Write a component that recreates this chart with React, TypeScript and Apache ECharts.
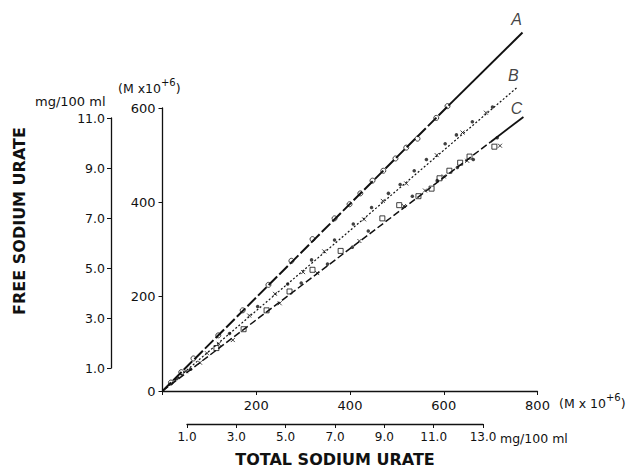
import React, { useEffect, useRef } from "react";
import * as echarts from "echarts";

// ---- tick labels ----
const mainXTicks = [0, 200, 400, 600, 800];
const mainYTicks = [0, 200, 400, 600];
const mgYTickLabels = ["1.0", "3.0", "5.0", "7.0", "9.0", "11.0"];
const mgXTickLabels = ["1.0", "3.0", "5.0", "7.0", "9.0", "11.0", "13.0"];

// ---- fitted lines (total, free) in M x 10^-6 ----
const fitA = [[0, 0], [610, 605], [768, 760]];
const fitB = [[0, 0], [757, 644]];
const fitC = [[0, 0], [700, 528], [770, 581]];

// ---- data points ----
const circlesA = [
  [18, 18], [40, 40], [66, 69], [119, 118], [171, 171], [226, 225], [275, 276],
  [320, 322], [367, 366], [399, 396], [422, 419], [448, 446], [471, 467],
  [497, 493], [520, 516], [544, 535], [584, 579], [608, 604],
];
const dotsB = [
  [30, 26], [143, 122], [203, 179], [267, 227], [318, 278], [367, 320],
  [407, 354], [446, 389], [482, 419], [507, 438], [537, 467], [563, 491],
  [603, 524], [627, 543], [661, 571], [704, 602],
];
const crossesB = [
  [50, 42], [95, 80], [120, 100], [185, 160], [240, 206], [300, 252],
  [345, 296], [430, 364], [470, 403], [520, 440], [585, 500], [640, 548], [690, 590],
];
const squaresC = [
  [115, 91], [173, 131], [222, 171], [271, 211], [320, 257], [380, 297],
  [469, 366], [505, 394], [546, 413], [574, 429], [591, 451], [612, 467],
  [635, 484], [655, 497], [708, 518],
];
const dotsC = [
  [60, 46], [296, 229], [352, 269], [405, 305], [439, 339], [533, 413],
  [586, 446], [629, 474], [663, 491], [714, 537],
];
const crossesC = [
  [80, 60], [150, 108], [250, 186], [330, 250], [420, 318], [515, 392],
  [560, 425], [600, 455], [650, 488], [720, 520],
];

const FONT = "DejaVu Sans";
const BLACK = "#111";

export default function App() {
  const ref = useRef<HTMLDivElement>(null);
  useEffect(() => {
    if (!ref.current) return;
    const chart = echarts.init(ref.current, null, { renderer: "svg" });
    const axisLine = { show: true, lineStyle: { color: BLACK, width: 1.3 } };
    const crossSymbol = "path://M0,0L10,10M10,0L0,10";
    const common = { xAxisIndex: 0, yAxisIndex: 0, clip: false, silent: true };
    const endLabel = (p: number[], text: string, off: number[]) => ({
      value: p,
      label: {
        show: true,
        formatter: text,
        position: "inside",
        offset: off,
        fontFamily: "Liberation Sans",
        fontStyle: "italic",
        fontSize: 16,
        color: BLACK,
      },
    });
    const unitRich = {
      a: { fontFamily: FONT, fontSize: 12.5, verticalAlign: "bottom", fill: BLACK },
      s: { fontFamily: FONT, fontSize: 10, verticalAlign: "bottom", padding: [0, 0, 7, 0], fill: BLACK },
    };
    chart.setOption({
      animation: false,
      backgroundColor: "#fff",
      grid: [
        { left: 162.5, top: 108, width: 375, height: 283 },
        { left: 111, top: 118, width: 10, height: 250 },
        { left: 187, top: 400, width: 296, height: 24 },
      ],
      xAxis: [
        {
          gridIndex: 0, type: "value", min: 0, max: 800, interval: 200,
          axisLine, splitLine: { show: false },
          axisTick: { show: true, length: 4, lineStyle: { color: BLACK } },
          axisLabel: {
            fontFamily: FONT, fontSize: 13, color: BLACK, margin: 8,
            formatter: (v: number) => (v === 0 ? "" : String(mainXTicks[mainXTicks.indexOf(v)])),
          },
        },
        { gridIndex: 1, type: "value", show: false },
        {
          gridIndex: 2, type: "value", min: 0, max: 12, interval: 2,
          axisLine, splitLine: { show: false },
          axisTick: { show: true, length: 4, lineStyle: { color: BLACK } },
          axisLabel: {
            fontFamily: FONT, fontSize: 12, color: BLACK, margin: 7,
            formatter: (v: number) => mgXTickLabels[Math.round(v / 2)],
          },
        },
      ],
      yAxis: [
        {
          gridIndex: 0, type: "value", min: 0, max: 600, interval: 200,
          axisLine, splitLine: { show: false },
          axisTick: { show: true, length: 4, lineStyle: { color: BLACK } },
          axisLabel: {
            fontFamily: FONT, fontSize: 13, color: BLACK, margin: 7,
            formatter: (v: number) => String(mainYTicks[mainYTicks.indexOf(v)]),
          },
        },
        {
          gridIndex: 1, type: "value", min: 0, max: 10, interval: 2, position: "left",
          axisLine, splitLine: { show: false },
          axisTick: { show: true, length: 4, lineStyle: { color: BLACK } },
          axisLabel: {
            fontFamily: FONT, fontSize: 12.5, color: BLACK, margin: 6,
            formatter: (v: number) => mgYTickLabels[Math.round(v / 2)],
          },
        },
        { gridIndex: 2, type: "value", show: false },
      ],
      series: [
        {
          ...common, type: "line", symbol: "none", data: fitA.slice(0, 2),
          lineStyle: { color: BLACK, width: 2, type: [12, 3] },
        },
        {
          ...common, type: "line", symbol: "none", data: fitA.slice(1),
          lineStyle: { color: BLACK, width: 2, type: "solid" },
        },
        {
          ...common, type: "line", symbol: "none", data: fitB,
          lineStyle: { color: BLACK, width: 1.2, type: [2, 2] },
        },
        {
          ...common, type: "line", symbol: "none", data: fitC.slice(0, 2),
          lineStyle: { color: BLACK, width: 1.5, type: [7, 3] },
        },
        {
          ...common, type: "line", symbol: "none", data: fitC.slice(1),
          lineStyle: { color: BLACK, width: 1.8, type: "solid" },
        },
        {
          ...common, type: "scatter", data: circlesA, symbol: "circle", symbolSize: 5,
          itemStyle: { color: "#fff", borderColor: BLACK, borderWidth: 1 },
        },
        {
          ...common, type: "scatter", data: dotsB, symbol: "circle", symbolSize: 3.5,
          itemStyle: { color: BLACK },
        },
        {
          ...common, type: "scatter", data: crossesB, symbol: crossSymbol, symbolSize: 4,
          itemStyle: { color: "none", borderColor: BLACK, borderWidth: 1 },
        },
        {
          ...common, type: "scatter", data: squaresC, symbol: "rect", symbolSize: 5,
          itemStyle: { color: "#fff", borderColor: BLACK, borderWidth: 1 },
        },
        {
          ...common, type: "scatter", data: dotsC, symbol: "circle", symbolSize: 3.5,
          itemStyle: { color: BLACK },
        },
        {
          ...common, type: "scatter", data: crossesC, symbol: crossSymbol, symbolSize: 4,
          itemStyle: { color: "none", borderColor: BLACK, borderWidth: 1 },
        },
        {
          ...common, type: "scatter", symbol: "circle", symbolSize: 1,
          itemStyle: { color: "rgba(0,0,0,0)" },
          data: [
            endLabel(fitA[fitA.length - 1], "A", [-6, -13]),
            endLabel(fitB[fitB.length - 1], "B", [-4, -12]),
            endLabel(fitC[fitC.length - 1], "C", [-7, -8]),
          ],
        },
      ],
      graphic: [
        {
          type: "text", x: 19, y: 221, rotation: Math.PI / 2,
          style: {
            text: "FREE SODIUM URATE", fontFamily: FONT, fontWeight: "bold", fontSize: 16,
            fill: BLACK, textAlign: "center", textVerticalAlign: "middle",
          },
        },
        {
          type: "text", x: 335, y: 459,
          style: {
            text: "TOTAL SODIUM URATE", fontFamily: FONT, fontWeight: "bold", fontSize: 16,
            fill: BLACK, textAlign: "center", textVerticalAlign: "middle",
          },
        },
        {
          type: "text", x: 35, y: 101,
          style: {
            text: "mg/100 ml", fontFamily: FONT, fontSize: 13, fill: BLACK,
            textAlign: "left", textVerticalAlign: "middle",
          },
        },
        {
          type: "text", x: 118, y: 86,
          style: {
            text: "{a|(M x10}{s|+6}{a|)}", fontFamily: FONT, fill: BLACK,
            textAlign: "left", textVerticalAlign: "middle", rich: unitRich,
          },
        },
        {
          type: "text", x: 559, y: 401,
          style: {
            text: "{a|(M x 10}{s|+6}{a|)}", fontFamily: FONT, fill: BLACK,
            textAlign: "left", textVerticalAlign: "middle", rich: unitRich,
          },
        },
        {
          type: "text", x: 500, y: 438,
          style: {
            text: "mg/100 ml", fontFamily: FONT, fontSize: 12.5, fill: BLACK,
            textAlign: "left", textVerticalAlign: "middle",
          },
        },
      ],
    });
    return () => chart.dispose();
  }, []);
  return <div ref={ref} style={{ width: 635, height: 471, position: "fixed", left: 0, top: 0 }} />;
}
